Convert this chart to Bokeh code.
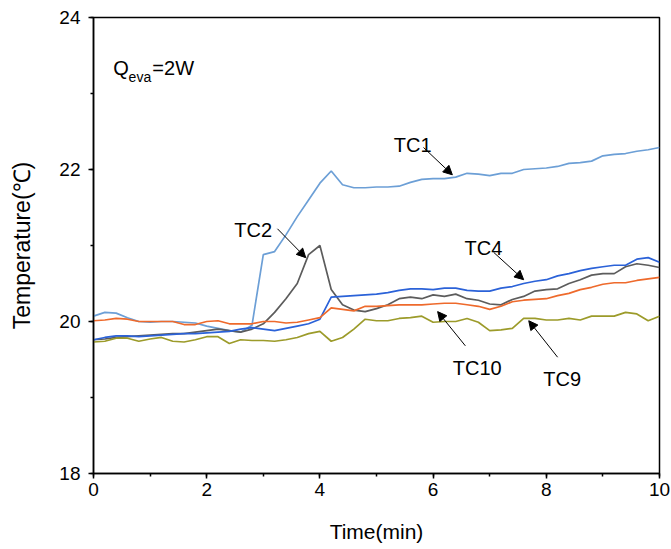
from bokeh.plotting import figure
from bokeh.models import Label, Arrow, NormalHead, SingleIntervalTicker
from bokeh.embed import file_html
from bokeh.resources import INLINE

# Sampling time (min)
time_min = [round(0.2 * i, 1) for i in range(51)]

# Thermocouple readings (°C)
tc1 = [20.07, 20.12, 20.11, 20.05, 20.00, 19.99, 20.00, 20.00, 19.99, 19.98,
       19.94, 19.91, 19.88, 19.86, 19.95, 20.88, 20.92, 21.14, 21.38, 21.60,
       21.82, 21.98, 21.80, 21.76, 21.76, 21.77, 21.77, 21.78, 21.83, 21.87,
       21.88, 21.88, 21.90, 21.95, 21.94, 21.92, 21.95, 21.95, 22.00, 22.01,
       22.02, 22.04, 22.08, 22.09, 22.11, 22.18, 22.20, 22.21, 22.24, 22.26,
       22.29]
tc2 = [19.76, 19.77, 19.79, 19.80, 19.81, 19.82, 19.83, 19.84, 19.84, 19.86,
       19.88, 19.90, 19.88, 19.86, 19.90, 19.97, 20.12, 20.30, 20.50, 20.88,
       21.00, 20.42, 20.22, 20.15, 20.13, 20.17, 20.22, 20.30, 20.32, 20.30,
       20.35, 20.33, 20.36, 20.30, 20.28, 20.23, 20.22, 20.29, 20.33, 20.40,
       20.42, 20.43, 20.50, 20.55, 20.61, 20.63, 20.63, 20.72, 20.76, 20.74,
       20.71]
tc4 = [19.76, 19.79, 19.81, 19.81, 19.80, 19.81, 19.82, 19.83, 19.84, 19.84,
       19.85, 19.86, 19.87, 19.90, 19.92, 19.90, 19.88, 19.91, 19.94, 19.97,
       20.03, 20.32, 20.33, 20.34, 20.35, 20.36, 20.38, 20.41, 20.43, 20.43,
       20.42, 20.44, 20.44, 20.41, 20.40, 20.40, 20.44, 20.46, 20.50, 20.53,
       20.55, 20.60, 20.63, 20.67, 20.70, 20.72, 20.74, 20.74, 20.82, 20.84,
       20.78]
tc10 = [20.01, 20.02, 20.04, 20.03, 20.00, 20.00, 20.00, 20.00, 19.96, 19.96,
        20.00, 20.01, 19.97, 19.97, 19.97, 20.00, 20.00, 19.98, 19.99, 20.02,
        20.05, 20.18, 20.16, 20.14, 20.20, 20.20, 20.21, 20.22, 20.22, 20.22,
        20.23, 20.24, 20.24, 20.22, 20.20, 20.16, 20.20, 20.26, 20.28, 20.29,
        20.30, 20.34, 20.37, 20.42, 20.45, 20.49, 20.51, 20.51, 20.54, 20.56,
        20.58]
tc9 = [19.73, 19.74, 19.78, 19.78, 19.74, 19.77, 19.79, 19.74, 19.73, 19.76,
       19.80, 19.80, 19.71, 19.76, 19.75, 19.75, 19.74, 19.76, 19.79, 19.84,
       19.87, 19.74, 19.79, 19.90, 20.03, 20.01, 20.01, 20.04, 20.05, 20.07,
       19.99, 20.00, 20.00, 20.04, 19.99, 19.88, 19.89, 19.91, 20.04, 20.04,
       20.02, 20.02, 20.04, 20.02, 20.07, 20.07, 20.07, 20.12, 20.10, 20.01,
       20.07]

series = [
    ("TC1", tc1, "#6c9fd6"),
    ("TC2", tc2, "#5c5c5c"),
    ("TC4", tc4, "#2b62d8"),
    ("TC9", tc9, "#9c9b2a"),
    ("TC10", tc10, "#ee6a2c"),
]

FONT = "Liberation Sans"

p = figure(frame_width=566, frame_height=456,
           x_range=(0, 10), y_range=(18, 24),
           min_border_left=93, min_border_right=12,
           min_border_top=17, min_border_bottom=76,
           output_backend="svg", toolbar_location=None)
p.background_fill_color = "white"
p.border_fill_color = "white"
p.grid.visible = False
p.outline_line_color = "black"
p.outline_line_width = 1.5
p.outline_line_alpha = 1.0

for name, vals, color in series:
    p.line(time_min, vals, line_color=color, line_width=1.7)

p.xaxis.ticker = SingleIntervalTicker(interval=2, num_minor_ticks=2)
p.yaxis.ticker = SingleIntervalTicker(interval=2, num_minor_ticks=2)
for ax in (p.xaxis, p.yaxis):
    ax.axis_line_color = "black"
    ax.axis_line_width = 1.5
    ax.major_tick_line_color = "black"
    ax.minor_tick_line_color = "black"
    ax.major_tick_line_width = 1.5
    ax.minor_tick_line_width = 1.5
    ax.major_tick_in = 0
    ax.major_tick_out = 5
    ax.minor_tick_in = 0
    ax.minor_tick_out = 3
    ax.major_label_text_font = FONT
    ax.major_label_text_font_size = "19px"
    ax.major_label_text_color = "black"
    ax.axis_label_text_font = FONT
    ax.axis_label_text_font_style = "normal"
    ax.axis_label_text_color = "black"

p.xaxis.axis_label = "Time(min)"
p.xaxis.axis_label_text_font_size = "21px"
p.xaxis.major_label_standoff = 4
p.xaxis.axis_label_standoff = 21
p.yaxis.axis_label = "Temperature(℃)"
p.yaxis.axis_label_text_font_size = "23px"
p.yaxis.major_label_standoff = 8
p.yaxis.axis_label_standoff = 21

# Series labels with pointer arrows
labels = [
    ("TC1", 5.64, 22.32, 5.83, 22.29, 6.34, 21.93),
    ("TC2", 2.82, 21.20, 3.25, 21.22, 3.75, 20.84),
    ("TC4", 6.89, 20.97, 7.07, 20.91, 7.60, 20.55),
    ("TC10", 6.78, 19.39, 6.57, 19.68, 6.08, 20.13),
    ("TC9", 8.28, 19.25, 8.20, 19.53, 7.69, 20.01),
]
for text, lx, ly, x0, y0, x1, y1 in labels:
    p.add_layout(Label(x=lx, y=ly, text=text, text_align="center",
                       text_baseline="alphabetic", text_font=FONT,
                       text_font_size="20px", text_color="black"))
    p.add_layout(Arrow(x_start=x0, y_start=y0, x_end=x1, y_end=y1,
                       line_color="black", line_width=1,
                       end=NormalHead(size=9, fill_color="black",
                                      line_color="black", line_width=1)))

# Heat load annotation: Q with subscript "eva"
p.add_layout(Label(x=0.35, y=23.33, text="Q", text_baseline="alphabetic",
                   text_font=FONT, text_font_size="20px", text_color="black"))
p.add_layout(Label(x=0.62, y=23.22, text="eva", text_baseline="alphabetic",
                   text_font=FONT, text_font_size="14px", text_color="black"))
p.add_layout(Label(x=1.04, y=23.33, text="=2W", text_baseline="alphabetic",
                   text_font=FONT, text_font_size="20px", text_color="black"))

open("out.html", "w").write(file_html(p, INLINE))
